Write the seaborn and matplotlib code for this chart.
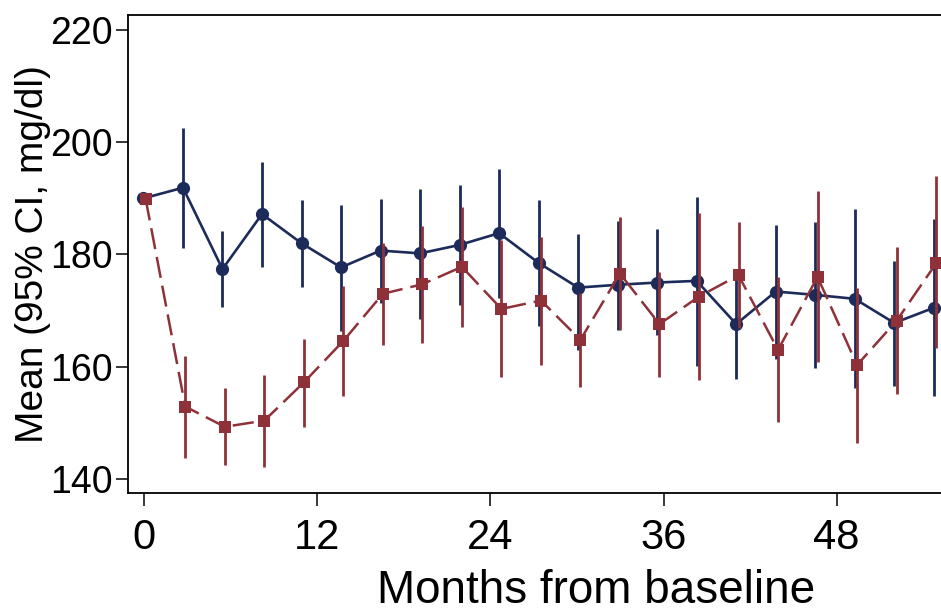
import matplotlib
matplotlib.use("Agg")
import matplotlib.pyplot as plt
from matplotlib import font_manager
import seaborn as sns
import pandas as pd

# ---- data ----
months = [0.0, 2.74, 5.48, 8.22, 10.96, 13.70, 16.44, 19.18, 21.92, 24.66, 27.40,
          30.14, 32.88, 35.62, 38.36, 41.10, 43.84, 46.58, 49.32, 52.06, 54.80]
blue_mean = [190.0, 191.9, 177.4, 187.2, 182.0, 177.7, 180.7, 180.2, 181.7, 183.8, 178.5,
             174.1, 174.6, 175.0, 175.3, 167.6, 173.4, 172.8, 172.1, 167.8, 170.5]
blue_lo = [190.0, 181.2, 170.7, 177.8, 174.2, 166.4, 171.3, 168.5, 171.0, 172.2, 167.3,
           163.0, 166.5, 165.7, 160.2, 157.8, 161.3, 159.7, 156.2, 156.6, 154.7]
blue_hi = [190.0, 202.5, 184.2, 196.4, 189.7, 188.8, 189.9, 191.7, 192.3, 195.2, 189.7,
           183.7, 186.0, 184.5, 190.3, 177.2, 185.3, 185.8, 188.1, 178.8, 186.4]
red_mean = [189.8, 152.9, 149.3, 150.4, 157.2, 164.6, 173.0, 174.7, 177.8, 170.3, 171.8,
            164.8, 176.6, 167.6, 172.5, 176.3, 163.0, 176.0, 160.3, 168.2, 178.4]
red_lo = [189.8, 143.7, 142.5, 142.2, 149.3, 154.8, 163.8, 164.2, 167.1, 158.2, 160.3,
          156.4, 166.5, 158.2, 157.6, 166.9, 150.1, 160.9, 146.4, 155.1, 163.3]
red_hi = [189.8, 162.0, 156.2, 158.5, 164.9, 174.3, 182.1, 185.0, 188.5, 182.6, 183.2,
          173.1, 186.7, 176.8, 187.4, 185.8, 175.9, 191.4, 174.0, 181.3, 193.9]
x_ticks = [0, 12, 24, 36, 48]
y_ticks = [140, 160, 180, 200, 220]

# ---- style ----
BLUE = "#1c2b5a"
RED = "#8f3139"
DODGE_BLUE = -0.06
DODGE_RED = 0.10

sns.set_theme(style="white")
names = {f.name for f in font_manager.fontManager.ttflist}
reg = "Liberation Sans" if "Liberation Sans" in names else "DejaVu Sans"
narrow = "Liberation Sans Narrow" if "Liberation Sans Narrow" in names else reg
plt.rcParams["font.family"] = [reg, "DejaVu Sans"]
plt.rcParams["text.color"] = "black"
plt.rcParams["axes.labelcolor"] = "black"
plt.rcParams["xtick.color"] = "black"
plt.rcParams["ytick.color"] = "black"

fig = plt.figure(figsize=(9.41, 6.13), dpi=100)
ax = fig.add_axes([128.3 / 941, 1 - 493.3 / 613, 1 - 128.3 / 941, (493.3 - 15) / 613])

xb = [m + DODGE_BLUE for m in months]
xr = [m + DODGE_RED for m in months]
df_b = pd.DataFrame({"month": xb, "mean": blue_mean})
df_r = pd.DataFrame({"month": xr, "mean": red_mean})

ax.vlines(xb, blue_lo, blue_hi, color=BLUE, lw=2.0, zorder=2)
sns.lineplot(data=df_b, x="month", y="mean", ax=ax, color=BLUE, lw=1.9,
             marker="o", markersize=9.5, markeredgewidth=0, zorder=3,
             estimator=None, sort=False)
ax.vlines(xr, red_lo, red_hi, color=RED, lw=2.0, zorder=4)
sns.lineplot(data=df_r, x="month", y="mean", ax=ax, color=RED, lw=1.8,
             marker="s", markersize=8.3, markeredgewidth=0, zorder=5,
             estimator=None, sort=False, dashes=False)
ax.lines[-1].set_dashes((8.5, 3.2))

ax.set_xlim(-1.11, 55.24)
ax.set_ylim(137.45, 222.67)
ax.set_xticks(x_ticks)
ax.set_yticks(y_ticks)
ax.set_xticklabels([str(v) for v in x_ticks], fontsize=30, family=[narrow, "DejaVu Sans"])
ax.set_yticklabels([str(v) for v in y_ticks], fontsize=27, family=[narrow, "DejaVu Sans"])
ax.tick_params(axis="both", which="major", direction="out", length=9, width=1.1,
               color="black", labelcolor="black", left=True, bottom=True)
ax.tick_params(axis="x", pad=9)
ax.tick_params(axis="y", pad=2)

ax.set_xlabel("Months from baseline", fontsize=33, color="black")
ax.set_ylabel("Mean (95% CI, mg/dl)", fontsize=28, color="black")
ax.xaxis.set_label_coords(0.576, -0.158)
ax.yaxis.set_label_coords(-0.095, 0.5)

for side in ["left", "bottom", "top"]:
    ax.spines[side].set_visible(True)
    ax.spines[side].set_color("black")
    ax.spines[side].set_linewidth(1.3)
ax.spines["right"].set_visible(False)
ax.grid(False)

fig.savefig("out.png", dpi=100)
